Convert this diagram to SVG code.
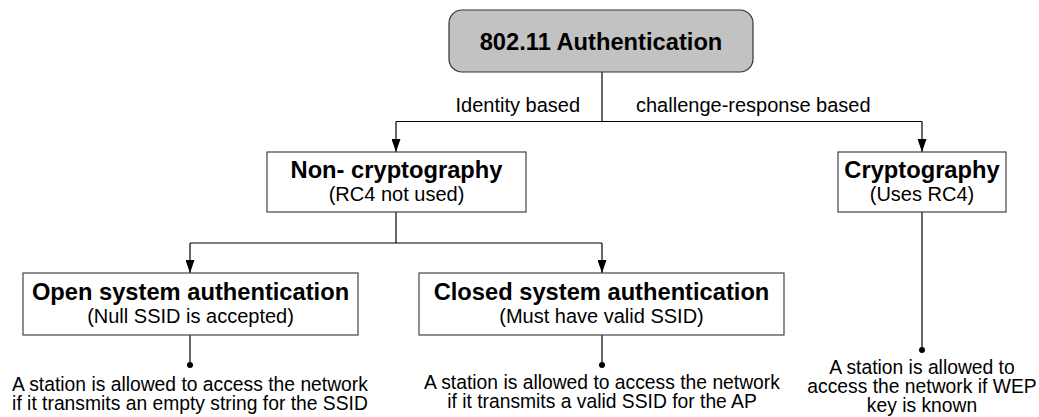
<svg xmlns="http://www.w3.org/2000/svg" width="1039" height="417" viewBox="0 0 1039 417">
<defs>
<style>
.box{fill:#fff;stroke:#444;stroke-width:1.2}
.root{fill:#c2c2c2;stroke:#333;stroke-width:1.2}
.t{font-family:"Liberation Sans",Arial,Helvetica,sans-serif;fill:#000;text-anchor:middle}
.b{font-weight:bold;font-size:23.7px}
.s{font-size:20px}
.d{font-size:19.3px}
.lbl{font-family:"Liberation Sans",Arial,Helvetica,sans-serif;font-size:20px;fill:#000}
.ln{fill:none;stroke:#000;stroke-width:1.2}
.dot{fill:#000}
</style>
<marker id="ah" markerWidth="13" markerHeight="9" refX="13" refY="4.5" orient="auto" markerUnits="userSpaceOnUse" viewBox="0 0 13 9">
<path d="M0,0 L13,4.5 L0,9 Z" fill="#000"/>
</marker>
</defs>
<rect width="1039" height="417" fill="#fff"/>
<g id="connectors">
<path class="ln" d="M602,72 V121.5"/>
<path class="ln" d="M396,121.5 H922"/>
<path class="ln" d="M396,121.5 V152" marker-end="url(#ah)"/>
<path class="ln" d="M922,121.5 V152" marker-end="url(#ah)"/>
<path class="ln" d="M396,212 V243"/>
<path class="ln" d="M190,243 H602"/>
<path class="ln" d="M190,243 V273" marker-end="url(#ah)"/>
<path class="ln" d="M602,243 V273" marker-end="url(#ah)"/>
<path class="ln" d="M190,335 V365"/>
<circle class="dot" cx="190" cy="365" r="3"/>
<path class="ln" d="M602,335 V365"/>
<circle class="dot" cx="602" cy="365" r="3"/>
<path class="ln" d="M922,212 V350"/>
<circle class="dot" cx="922" cy="350" r="3"/>
<text class="lbl" x="580" y="112" text-anchor="end">Identity based</text>
<text class="lbl" x="636" y="112">challenge-response based</text>
</g>
<g id="root">
<rect class="root" x="449" y="10" width="304" height="62" rx="13"/>
<text class="t b" x="601" y="49.5">802.11 Authentication</text>
</g>
<g id="noncrypto">
<rect class="box" x="267" y="152" width="259" height="60"/>
<text class="t b" x="396.5" y="178">Non- cryptography</text>
<text class="t s" x="396.5" y="201">(RC4 not used)</text>
</g>
<g id="crypto">
<rect class="box" x="838" y="152" width="168" height="60"/>
<text class="t b" x="922" y="178">Cryptography</text>
<text class="t s" x="922" y="201">(Uses RC4)</text>
</g>
<g id="open">
<rect class="box" x="23" y="273" width="335" height="62"/>
<text class="t b" x="190.5" y="300">Open system authentication</text>
<text class="t s" x="190.5" y="323">(Null SSID is accepted)</text>
</g>
<g id="closed">
<rect class="box" x="419" y="273" width="365" height="62"/>
<text class="t b" x="601.5" y="300">Closed system authentication</text>
<text class="t s" x="601.5" y="323">(Must have valid SSID)</text>
</g>
<g id="open-desc">
<text class="t d" x="190" y="391">A station is allowed to access the network</text>
<text class="t d" x="190" y="410">if it transmits an empty string for the SSID</text>
</g>
<g id="closed-desc">
<text class="t d" x="602" y="389">A station is allowed to access the network</text>
<text class="t d" x="602" y="408">if it transmits a valid SSID for the AP</text>
</g>
<g id="crypto-desc">
<text class="t d" x="922" y="374">A station is allowed to</text>
<text class="t d" x="922" y="393">access the network if WEP</text>
<text class="t d" x="922" y="412">key is known</text>
</g>
</svg>
